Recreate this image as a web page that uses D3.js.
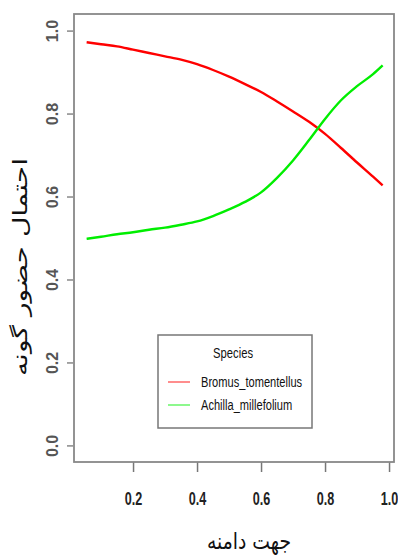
<!DOCTYPE html>
<html>
<head>
<meta charset="utf-8">
<script src="https://cdn.jsdelivr.net/npm/d3@7/dist/d3.min.js"></script>
<style>
  body { margin: 0; background: #fff; }
  svg { display: block; }
</style>
</head>
<body>
<div id="chart"></div>
<script>
// x positions sampled along the fitted curves
const xVals = [0.055, 0.1, 0.15, 0.2, 0.25, 0.3, 0.35, 0.4, 0.45, 0.5,
               0.55, 0.6, 0.65, 0.7, 0.75, 0.8, 0.85, 0.9, 0.95, 0.98];
const bromus = [0.972, 0.967, 0.962, 0.954, 0.946, 0.938, 0.930, 0.919, 0.905, 0.889,
                0.871, 0.852, 0.829, 0.805, 0.780, 0.751, 0.717, 0.682, 0.648, 0.627];
const achilla = [0.498, 0.503, 0.509, 0.514, 0.520, 0.525, 0.532, 0.540, 0.553, 0.569,
                 0.587, 0.610, 0.645, 0.687, 0.736, 0.787, 0.832, 0.866, 0.895, 0.916];
const seriesNames = ['Bromus_tomentellus', 'Achilla_millefolium'];
const seriesColors = ['#ff0000', '#00ee00'];
const xTicks = [0.2, 0.4, 0.6, 0.8, 1.0];
const yTicks = [0, 0.2, 0.4, 0.6, 0.8, 1.0];
const xTitle = 'جهت دامنه';
const yTitle = 'احتمال حضور گونه';
const legendTitle = 'Species';

const W = 398, H = 555;
const margin = { top: 14, right: 4, bottom: 93, left: 74 };
const width = W - margin.left - margin.right;
const height = H - margin.top - margin.bottom;

const svg = d3.select('#chart').append('svg')
    .attr('width', W)
    .attr('height', H);
const g = svg.append('g')
    .attr('transform', 'translate(' + margin.left + ',' + margin.top + ')');

const x = d3.scaleLinear().domain([0.0155, 1.0155]).range([0, width]);
const y = d3.scaleLinear().domain([-0.04, 1.04]).range([height, 0]);

// y axis, labels turned like R's default
const yAxis = g.append('g')
    .attr('transform', 'translate(-1,0)')
    .call(d3.axisLeft(y).tickValues(yTicks).tickSize(6).tickFormat(d3.format('.1f')));
yAxis.select('.domain').remove();
yAxis.selectAll('.tick line').attr('stroke', '#888').attr('stroke-width', 1.5);
yAxis.selectAll('.tick text')
    .attr('x', null).attr('dy', null)
    .attr('transform', 'translate(-15,0) rotate(-90)')
    .attr('text-anchor', 'middle')
    .attr('fill', '#555')
    .style('font-family', '"Liberation Sans", Arial, sans-serif')
    .style('font-size', '16px')
    .style('font-weight', 'bold');

// x axis
const xAxis = g.append('g')
    .attr('transform', 'translate(0,' + height + ')')
    .call(d3.axisBottom(x).tickValues(xTicks).tickSize(10).tickFormat(d3.format('.1f')));
xAxis.select('.domain').remove();
xAxis.selectAll('.tick line').attr('stroke', '#777').attr('stroke-width', 1.5);
xAxis.selectAll('.tick text')
    .attr('y', 43).attr('dy', null)
    .attr('transform', 'scale(0.7,1)')
    .attr('fill', '#222')
    .style('font-family', '"Liberation Sans", Arial, sans-serif')
    .style('font-size', '18px')
    .style('font-weight', 'bold');

// plot box
g.append('rect')
    .attr('width', width)
    .attr('height', height)
    .attr('fill', 'none')
    .attr('stroke', '#888')
    .attr('stroke-width', 1.8);

const line = d3.line()
    .x((d, i) => x(xVals[i]))
    .y((d) => y(d))
    .curve(d3.curveMonotoneX);

[bromus, achilla].forEach((vals, i) => {
    g.append('path')
        .datum(vals)
        .attr('fill', 'none')
        .attr('stroke', seriesColors[i])
        .attr('stroke-width', 2.4)
        .attr('d', line);
});

// legend
const leg = svg.append('g').attr('transform', 'translate(158,335)');
leg.append('rect')
    .attr('width', 154).attr('height', 93)
    .attr('fill', '#fff')
    .attr('stroke', '#777')
    .attr('stroke-width', 1.5);
leg.append('text')
    .attr('transform', 'translate(75,23) scale(0.75,1)')
    .attr('text-anchor', 'middle')
    .attr('fill', '#111')
    .style('font-family', '"Liberation Sans", Arial, sans-serif')
    .style('font-size', '15px')
    .text(legendTitle);
seriesNames.forEach((name, i) => {
    const row = leg.append('g').attr('transform', 'translate(0,' + (47 + i * 23) + ')');
    row.append('line')
        .attr('x1', 10).attr('x2', 32)
        .attr('stroke', seriesColors[i])
        .attr('stroke-opacity', 0.6)
        .attr('stroke-width', 1.5);
    row.append('text')
        .attr('transform', 'translate(43,5) scale(0.74,1)')
        .attr('fill', '#111')
        .style('font-family', '"Liberation Sans", Arial, sans-serif')
        .style('font-size', '15px')
        .text(name);
});

// axis titles
svg.append('text')
    .attr('x', 249).attr('y', 549)
    .attr('text-anchor', 'middle')
    .attr('textLength', 84)
    .attr('lengthAdjust', 'spacingAndGlyphs')
    .attr('fill', '#111')
    .style('font-family', '"DejaVu Sans", sans-serif')
    .style('font-size', '23px')
    .text(xTitle);

svg.append('text')
    .attr('transform', 'translate(27,267) rotate(-90)')
    .attr('text-anchor', 'middle')
    .attr('textLength', 218)
    .attr('lengthAdjust', 'spacingAndGlyphs')
    .attr('fill', '#111')
    .style('font-family', '"DejaVu Sans", sans-serif')
    .style('font-size', '20px')
    .text(yTitle);
</script>
</body>
</html>
